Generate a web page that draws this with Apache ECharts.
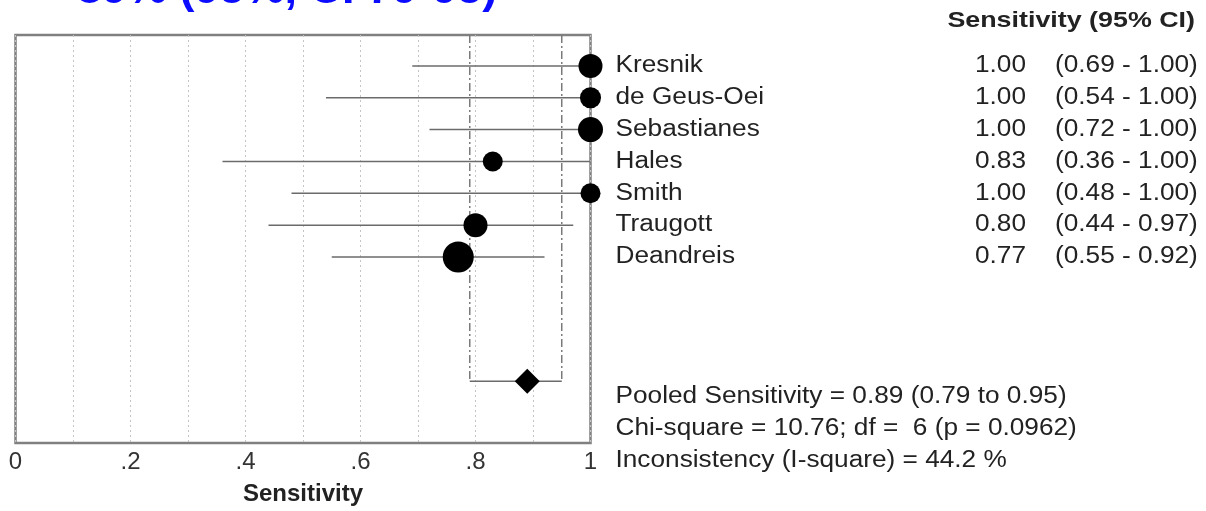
<!DOCTYPE html>
<html><head><meta charset="utf-8">
<script src="https://cdn.jsdelivr.net/npm/echarts@6/dist/echarts.min.js"></script>
<style>html,body{margin:0;padding:0;background:#fff}#c{width:1206px;height:511px}</style>
</head><body><div id="c"></div>
<script>
// ---- data ----
const studies = ['Kresnik', 'de Geus-Oei', 'Sebastianes', 'Hales', 'Smith', 'Traugott', 'Deandreis'];
const sensitivity = [1.00, 1.00, 1.00, 0.83, 1.00, 0.80, 0.77];
const ciLow = [0.69, 0.54, 0.72, 0.36, 0.48, 0.44, 0.55];
const ciHigh = [1.00, 1.00, 1.00, 1.00, 1.00, 0.97, 0.92];
const studyWeight = [16, 12.3, 17.4, 11.1, 11.1, 16, 26.7];
const pooled = [0.89];
const pooledLow = [0.79];
const pooledHigh = [0.95];
const pooledRow = [9.9];
const xTicks = ['0', '.2', '.4', '.6', '.8', '1'];
const footer = [
  'Pooled Sensitivity = 0.89 (0.79 to 0.95)',
  'Chi-square = 10.76; df =  6 (p = 0.0962)',
  'Inconsistency (I-square) = 44.2 %'
];
const headerText = 'Sensitivity (95% CI)';
const blueTitle = '89% (95%, CI 79-95)';

// ---- chart ----
const FONT = '"Liberation Sans", Arial, Helvetica, sans-serif';
const SX = 1.14, FS = 23, TXT = '#222';
const Y_MIN = -0.97, Y_MAX = 11.84;

function txt(x, y, text, align, bold, color, size, sx) {
  return {type: 'text', x: x, y: y, scaleX: sx || SX,
    style: {text: text, x: 0, y: 0, fill: color || TXT,
      font: (bold ? 'bold ' : '') + (size || FS) + 'px ' + FONT,
      align: align || 'left', verticalAlign: 'middle'}};
}

const chart = echarts.init(document.getElementById('c'));
chart.setOption({
  animation: false,
  backgroundColor: '#fff',
  grid: {left: 15.5, top: 35, width: 575, height: 410, show: true,
    borderColor: '#808080', borderWidth: 2.5, backgroundColor: 'transparent'},
  xAxis: {type: 'value', min: 0, max: 1, interval: 0.1,
    axisLine: {show: false}, axisTick: {show: false},
    splitLine: {show: true, lineStyle: {color: '#c4c4c4', width: 1, type: [2, 3]}},
    axisLabel: {fontSize: 24, color: '#333', fontFamily: FONT, margin: 7,
      formatter: function (v) { const k = Math.round(v * 10); return k % 2 ? '' : xTicks[k / 2]; }},
    name: 'Sensitivity', nameLocation: 'middle', nameGap: 39,
    nameTextStyle: {fontSize: 24, fontWeight: 'bold', color: '#222', fontFamily: FONT}},
  yAxis: {type: 'value', inverse: true, min: Y_MIN, max: Y_MAX, show: false},
  graphic: [
    {type: 'text', x: 77, y: 13, style: {text: blueTitle, fill: '#0b0bff',
      font: 'bold 45px ' + FONT, align: 'left', verticalAlign: 'bottom'}},
    txt(1195, 21, headerText, 'right', true, null, 22, 1.22)
  ].concat(footer.map(function (t, i) { return txt(615.5, 397 + 32 * i, t, 'left'); })),
  series: [
    { // pooled bracket
      type: 'custom', silent: true, z: 2,
      data: pooled.map(function (p, i) { return [pooledLow[i], pooledHigh[i], pooledRow[i]]; }),
      encode: {x: [0, 1], y: 2},
      renderItem: function (params, api) {
        const r = api.value(2);
        const a = api.coord([api.value(0), r]), b = api.coord([api.value(1), r]);
        const ta = api.coord([api.value(0), Y_MIN]), tb = api.coord([api.value(1), Y_MIN]);
        const dash = {stroke: '#7a7a7a', lineWidth: 1.5, lineDash: [8, 3, 2, 3]};
        return {type: 'group', children: [
          {type: 'line', shape: {x1: ta[0], y1: ta[1], x2: a[0], y2: a[1]}, style: dash},
          {type: 'line', shape: {x1: tb[0], y1: tb[1], x2: b[0], y2: b[1]}, style: dash},
          {type: 'line', shape: {x1: a[0], y1: a[1], x2: b[0], y2: b[1]}, style: {stroke: '#6b6b6b', lineWidth: 1.5}}
        ]};
      }
    },
    { // study CI lines
      type: 'custom', silent: true, z: 3,
      data: studies.map(function (s, i) { return [ciLow[i], ciHigh[i], i]; }),
      encode: {x: [0, 1], y: 2},
      renderItem: function (params, api) {
        const i = api.value(2);
        const a = api.coord([api.value(0), i]), b = api.coord([api.value(1), i]);
        return {type: 'line', shape: {x1: a[0], y1: a[1], x2: b[0], y2: b[1]},
          style: {stroke: '#6b6b6b', lineWidth: 1.5}};
      }
    },
    { // study points
      type: 'scatter', z: 4, silent: true,
      data: sensitivity.map(function (v, i) { return [v, i]; }),
      symbol: 'circle',
      symbolSize: function (val, p) { return 6 * Math.sqrt(studyWeight[p.dataIndex]); },
      itemStyle: {color: '#000', opacity: 1}
    },
    { // pooled diamond
      type: 'scatter', z: 4, silent: true,
      data: pooled.map(function (v, i) { return [v, pooledRow[i]]; }),
      symbol: 'diamond', symbolSize: [25, 25],
      itemStyle: {color: '#000', opacity: 1}
    },
    { // right-hand text columns
      type: 'custom', silent: true, z: 5, clip: false,
      data: studies.map(function (s, i) { return [1, i]; }),
      encode: {x: 0, y: 1},
      renderItem: function (params, api) {
        const i = params.dataIndex;
        const p = api.coord([1, api.value(1)]);
        return {type: 'group', children: [
          txt(p[0] + 25, p[1], studies[i], 'left'),
          txt(1026, p[1], sensitivity[i].toFixed(2), 'right'),
          txt(1055, p[1], '(' + ciLow[i].toFixed(2) + ' - ' + ciHigh[i].toFixed(2) + ')', 'left')
        ]};
      }
    }
  ]
});
</script></body></html>
